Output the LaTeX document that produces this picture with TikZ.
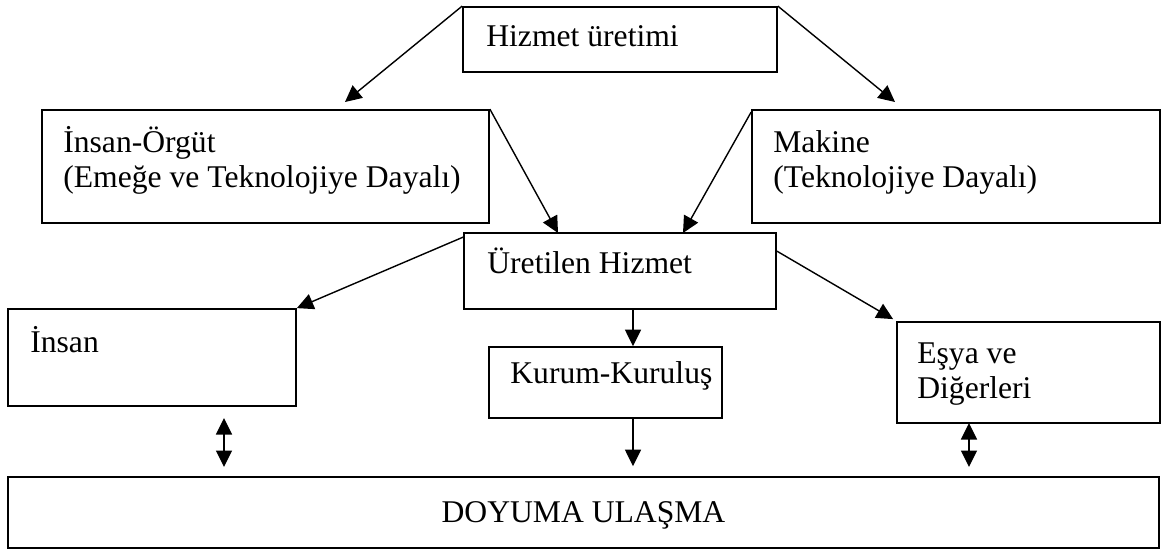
\documentclass[tikz,border=0pt]{standalone}
\usepackage{fontspec}
\setmainfont{Liberation Serif}
\usetikzlibrary{arrows.meta,fit,calc}

\begin{document}
\begin{tikzpicture}[x=0.02cm,y=-0.02cm,
    box/.style={draw,line width=1pt,inner sep=0pt},
    txt/.style={anchor=base west,inner sep=0pt,align=left,
      font=\fontsize{18}{19.8}\selectfont},
    arr/.style={line width=0.8pt,-{Triangle[length=0.33cm,width=0.32cm]}},
    darr/.style={line width=0.8pt,{Triangle[length=0.33cm,width=0.32cm]}-{Triangle[length=0.33cm,width=0.32cm]}}]

\useasboundingbox (0,0) rectangle (1164,551);

% boxes
\node[box,fit={(463,7) (777,72)}] (hiz) {};
\node[box,fit={(42,110) (489,223)}] (org) {};
\node[box,fit={(752,110) (1160,223)}] (mak) {};
\node[box,fit={(464,233) (776,309)}] (uret) {};
\node[box,fit={(8,309) (296,406)}] (ins) {};
\node[box,fit={(489,347) (722,418)}] (kur) {};
\node[box,fit={(897,322) (1160,423)}] (esya) {};
\node[box,fit={(8,477) (1159,548)}] (doy) {};

% texts (base = last line)
\node[txt] (hiztxt) at (486,47) {Hizmet üretimi};
\node[txt] (orgtxt) at (63,187) {İnsan-Örgüt\\(Emeğe ve Teknolojiye Dayalı)};
\node[txt] (maktxt) at (773,187) {Makine\\(Teknolojiye Dayalı)};
\node[txt] (urettxt) at (487,273) {Üretilen Hizmet};
\node[txt] (instxt) at (30,352) {İnsan};
\node[txt] (kurtxt) at (510,383) {Kurum-Kuruluş};
\node[txt] (esyatxt) at (917,398) {Eşya ve\\Diğerleri};
\node[txt,anchor=base] (doytxt) at (doy.center |- 0,522) {DOYUMA ULAŞMA};

% free ends
\coordinate (orgtip) at (345,102);
\coordinate (maktip) at (895,102);
\coordinate (uret1) at (558,233);
\coordinate (uret2) at (683,233);
\coordinate (kx) at (633,0);
\coordinate (ia) at (224,418);
\coordinate (ib) at (224,467);
\coordinate (ea) at (969,423);
\coordinate (eb) at (969,467);

% connectors
\draw[arr] (hiz.north west) -- (orgtip);
\draw[arr] (hiz.north east) -- (maktip);
\draw[arr] (org.north east) -- (uret1);
\draw[arr] ($(mak.north west)+(0,3)$) -- (uret2);
\draw[arr] ($(uret.north west)+(0,5)$) -- (ins.north east);
\draw[arr] ($(uret.north east)+(0,19)$) -- ($(esya.north west)+(-3,-2)$);
\draw[arr] (uret.south -| kx) -- (kur.north -| kx);
\draw[arr] (kur.south -| kx) -- ($(doy.north -| kx)+(0,-10)$);
\draw[darr] (ia) -- (ib);
\draw[darr] (ea) -- (eb);
\end{tikzpicture}
\end{document}
